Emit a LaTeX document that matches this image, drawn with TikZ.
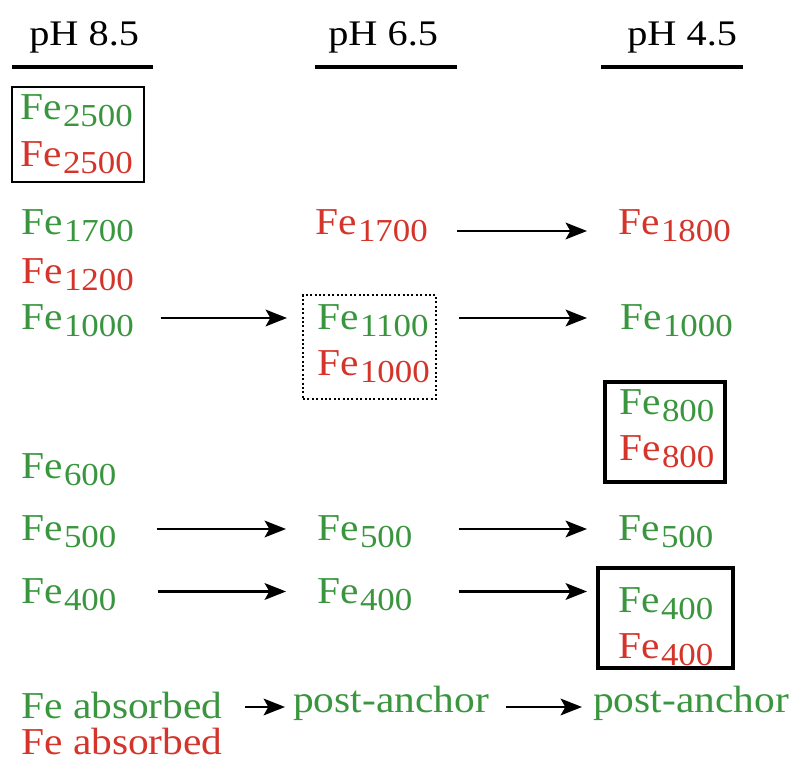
\documentclass[tikz,border=0pt]{standalone}
\usepackage{fontspec}
\setmainfont{Liberation Serif}
\newfontfamily\fefont[FakeStretch=1.09]{Liberation Serif}
\newfontfamily\hdfont[FakeStretch=1.12]{Liberation Serif}
\usetikzlibrary{arrows.meta}
\definecolor{fegreen}{RGB}{58,150,62}
\definecolor{fered}{RGB}{212,52,42}
\newcommand{\fesub}[1]{Fe\kern1pt\raisebox{-5pt}{\fontsize{24pt}{25pt}\selectfont #1}}
\tikzset{
  fe/.style={anchor=base west, inner sep=0pt, text height=18pt, text depth=0pt,
    font=\fefont\fontsize{28.5pt}{30pt}\selectfont},
  gr/.style={fe, text=fegreen},
  rd/.style={fe, text=fered},
  hd/.style={anchor=base west, inner sep=0pt, font=\hdfont\fontsize{27pt}{28pt}\selectfont},
  rule/.style={line width=2.3pt},
  solidbox/.style={draw, line width=1.5pt, inner sep=0pt},
  thickbox/.style={draw, line width=2.4pt, inner sep=0pt},
  dotbox/.style={draw, line width=1.5pt, dash pattern=on 1.5pt off 1.8pt, inner sep=0pt},
  arr/.style={-{Stealth[length=16pt,width=12.5pt,inset=3.5pt]}, line width=1.8pt}
}
\begin{document}
\begin{tikzpicture}[x=0.75pt,y=-0.75pt]
\useasboundingbox (0,0) rectangle (794,762);
% headers
\node[hd] (h1) at (29,46) {pH 8.5};
\node[hd] (h2) at (328,46) {pH 6.5};
\node[hd] (h3) at (627,46) {pH 4.5};
\draw[rule] (12,67) -- (153,67);
\draw[rule] (315,67) -- (457,67);
\draw[rule] (601,67) -- (743,67);
% boxes
\node[solidbox, minimum width=99pt, minimum height=71.25pt] (box1) at (78,134.5) {};
\node[dotbox, minimum width=99.75pt, minimum height=78pt] (dbox) at (369.5,347) {};
\node[thickbox, minimum width=90pt, minimum height=75pt] (box800) at (665,432) {};
\node[thickbox, minimum width=101.25pt, minimum height=75pt] (box400) at (665.5,618) {};
% column 1
\node[gr] (g2500) at (20,120) {\fesub{2500}};
\node[rd] (r2500) at (20,167) {\fesub{2500}};
\node[gr] (g1700) at (21,235) {\fesub{1700}};
\node[rd] (r1200) at (21,284) {\fesub{1200}};
\node[gr] (g1000a) at (21,330) {\fesub{1000}};
\node[gr] (g600) at (21,479) {\fesub{600}};
\node[gr] (g500a) at (21,541) {\fesub{500}};
\node[gr] (g400a) at (21,603.5) {\fesub{400}};
\node[gr] (gabs) at (21,719) {Fe absorbed};
\node[rd] (rabs) at (21,755) {Fe absorbed};
% column 2
\node[rd] (r1700) at (315,235) {\fesub{1700}};
\node[gr] (g1100) at (317,330) {\fesub{1100}};
\node[rd] (r1000) at (317,376) {\fesub{1000}};
\node[gr] (g500b) at (317,541) {\fesub{500}};
\node[gr] (g400b) at (317,603.5) {\fesub{400}};
\node[gr] (pa1) at (293,713) {post-anchor};
% column 3
\node[rd] (r1800) at (618,235) {\fesub{1800}};
\node[gr] (g1000c) at (620,330) {\fesub{1000}};
\node[gr] (g800) at (619,415) {\fesub{800}};
\node[rd] (r800) at (619,461) {\fesub{800}};
\node[gr] (g500c) at (618,541) {\fesub{500}};
\node[gr] (g400c) at (618,613) {\fesub{400}};
\node[rd] (r400c) at (618,659) {\fesub{400}};
\node[gr] (pa2) at (593,713) {post-anchor};
% arrows
\draw[arr, shorten <=22pt, shorten >=23.25pt] ([yshift=-6pt]r1700.east) -- ([yshift=-6pt]r1700.east -| r1800.west);
\draw[arr, shorten <=20pt, shorten >=22.5pt] (g1000a.east) -- (g1000a.east -| g1100.west);
\draw[arr, shorten <=23pt, shorten >=24.75pt] (g1100.east) -- (g1100.east -| g1000c.west);
\draw[arr, shorten <=30pt, shorten >=23.25pt] (g500a.east) -- (g500a.east -| g500b.west);
\draw[arr, shorten <=34.5pt, shorten >=23.25pt] (g500b.east) -- (g500b.east -| g500c.west);
\draw[arr, shorten <=30.75pt, shorten >=23.25pt] (g400a.east) -- (g400a.east -| g400b.west);
\draw[arr, shorten <=34.5pt, shorten >=23.25pt] (g400b.east) -- (g400b.east -| g400c.west);
\draw[arr, shorten <=16.5pt, shorten >=6pt] (gabs.east) -- (gabs.east -| pa1.west);
\draw[arr, shorten <=12.75pt, shorten >=8.25pt] ([yshift=-4.5pt]pa1.east) -- ([yshift=-4.5pt]pa1.east -| pa2.west);
\end{tikzpicture}
\end{document}
